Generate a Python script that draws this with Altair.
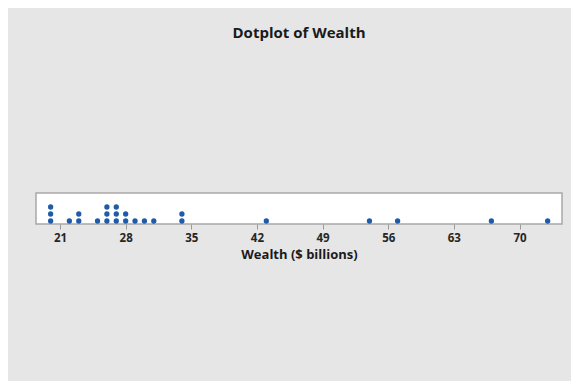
import altair as alt
import pandas as pd

# Wealth values ($ billions), one entry per dot
wealth = [20, 20, 20, 22, 23, 23, 25, 26, 26, 26, 27, 27, 27, 28, 28,
          29, 30, 31, 34, 34, 43, 54, 57, 67, 73]
tick_values = [21, 28, 35, 42, 49, 56, 63, 70]

df = pd.DataFrame({"Wealth": wealth})

FONT = "Open Sans"

chart = (
    alt.Chart(df)
    .transform_window(stack="row_number()", groupby=["Wealth"])
    .transform_calculate(level="datum.stack - 1")
    .mark_circle(size=28, color="#1f5ba8", opacity=1)
    .encode(
        x=alt.X(
            "Wealth:Q",
            scale=alt.Scale(domain=[18.44, 74.53], nice=False, zero=False),
            axis=alt.Axis(
                values=tick_values,
                title="Wealth ($ billions)",
                grid=False,
                domain=False,
                tickColor="#9a9a9a",
                tickSize=5,
                labelFont=FONT,
                labelFontWeight="bold",
                labelFontSize=11.5,
                labelColor="#262626",
                labelPadding=3,
                titleFont=FONT,
                titleFontWeight="bold",
                titleFontSize=13,
                titleColor="#1a1a1a",
                titlePadding=5,
            ),
        ),
        y=alt.Y(
            "level:Q",
            scale=alt.Scale(domain=[-0.4286, 4.0], nice=False, zero=False),
            axis=None,
        ),
    )
    .properties(
        width=526,
        height=31,
        autosize=alt.AutoSizeParams(type="none"),
        padding={"left": 28, "top": 185, "right": 9, "bottom": 157},
        background="#e6e6e6",
        title=alt.TitleParams(
            "Dotplot of Wealth",
            font=FONT,
            fontSize=15,
            fontWeight="bold",
            color="#1a1a1a",
            anchor="middle",
            offset=152,
        ),
    )
    .configure_view(stroke="#a8a8a8", strokeWidth=1.5, fill="white")
)

chart.save("out.html", embed_options={"renderer": "svg", "actions": False})
